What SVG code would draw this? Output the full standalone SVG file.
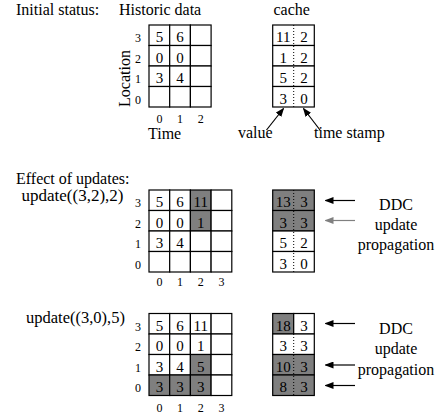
<svg xmlns="http://www.w3.org/2000/svg" width="439" height="416" viewBox="0 0 439 416">
<defs>
<marker id="ah" markerUnits="userSpaceOnUse" markerWidth="9" markerHeight="7" refX="8" refY="3.5" orient="auto">
<path d="M0,0 L9,3.5 L0,7 Z" fill="context-stroke"/>
</marker>
<style>
text{font-family:"Liberation Serif","Times New Roman",serif;fill:#000}
.lbl{font-size:16px}
.v{font-size:15px;text-anchor:middle}
.ax{font-size:12px;text-anchor:middle}
.c{fill:#fff;stroke:#000;stroke-width:1.2}
.s{fill:#7f7f7f;stroke:#000;stroke-width:1.2}
.dot{stroke:#000;stroke-width:1;stroke-dasharray:1 2;fill:none}
.ar{stroke:#000;stroke-width:1.2;fill:none;marker-end:url(#ah)}
</style>
</defs>
<rect width="439" height="416" fill="#fff"/>

<g id="labels" font-family="Liberation Serif, Times New Roman, serif">
<text class="lbl" x="16" y="15">Initial status:</text>
<text class="lbl" x="119" y="15">Historic data</text>
<text class="lbl" x="291.7" y="15" text-anchor="middle">cache</text>
<text class="lbl" x="148" y="139">Time</text>
<text class="lbl" transform="translate(129.5,78.5) rotate(-90)" text-anchor="middle">Location</text>
<text class="lbl" x="238" y="138">value</text>
<text class="lbl" x="314" y="138">time stamp</text>
<text class="lbl" x="16" y="184">Effect of updates:</text>
<text class="lbl" x="21.5" y="200.5" style="font-size:17px">update((3,2),2)</text>
<text class="lbl" x="26" y="323.3" style="font-size:16.5px">update((3,0),5)</text>
<g text-anchor="middle" class="lbl">
<text x="396" y="210">DDC</text>
<text x="396" y="230">update</text>
<text x="396" y="250">propagation</text>
<text x="396" y="333.5">DDC</text>
<text x="396" y="354">update</text>
<text x="396" y="374.5">propagation</text>
</g>
</g>

<g id="grid1">
<rect class="c" x="149" y="25" width="20.7" height="20.5"/><rect class="c" x="169.7" y="25" width="20.7" height="20.5"/><rect class="c" x="190.4" y="25" width="20.7" height="20.5"/>
<rect class="c" x="149" y="45.5" width="20.7" height="20.5"/><rect class="c" x="169.7" y="45.5" width="20.7" height="20.5"/><rect class="c" x="190.4" y="45.5" width="20.7" height="20.5"/>
<rect class="c" x="149" y="66" width="20.7" height="20.5"/><rect class="c" x="169.7" y="66" width="20.7" height="20.5"/><rect class="c" x="190.4" y="66" width="20.7" height="20.5"/>
<rect class="c" x="149" y="86.5" width="20.7" height="20.5"/><rect class="c" x="169.7" y="86.5" width="20.7" height="20.5"/><rect class="c" x="190.4" y="86.5" width="20.7" height="20.5"/>
<text class="v" x="159.4" y="42">5</text><text class="v" x="180" y="42">6</text>
<text class="v" x="159.4" y="62.5">0</text><text class="v" x="180" y="62.5">0</text>
<text class="v" x="159.4" y="83">3</text><text class="v" x="180" y="83">4</text>
<text class="ax" x="138" y="42">3</text><text class="ax" x="138" y="62.5">2</text><text class="ax" x="138" y="83">1</text><text class="ax" x="138" y="103.5">0</text>
<text class="ax" x="159.4" y="122.5">0</text><text class="ax" x="180" y="122.5">1</text><text class="ax" x="200.7" y="122.5">2</text>
</g>

<g id="cache1">
<rect class="c" x="272.7" y="25" width="41.6" height="20.5"/>
<rect class="c" x="272.7" y="45.5" width="41.6" height="20.5"/>
<rect class="c" x="272.7" y="66" width="41.6" height="20.5"/>
<rect class="c" x="272.7" y="86.5" width="41.6" height="20.5"/>
<line class="dot" x1="293.7" y1="25" x2="293.7" y2="107"/>
<text class="v" x="283.2" y="42">11</text><text class="v" x="304" y="42">2</text>
<text class="v" x="283.2" y="62.5">1</text><text class="v" x="304" y="62.5">2</text>
<text class="v" x="283.2" y="83">5</text><text class="v" x="304" y="83">2</text>
<text class="v" x="283.2" y="103.5">3</text><text class="v" x="304" y="103.5">0</text>
</g>

<g id="grid2">
<rect class="c" x="149" y="190" width="20.7" height="20.5"/><rect class="c" x="169.7" y="190" width="20.7" height="20.5"/><rect class="s" x="190.4" y="190" width="20.7" height="20.5"/><rect class="c" x="211.1" y="190" width="20.7" height="20.5"/>
<rect class="c" x="149" y="210.5" width="20.7" height="20.5"/><rect class="c" x="169.7" y="210.5" width="20.7" height="20.5"/><rect class="s" x="190.4" y="210.5" width="20.7" height="20.5"/><rect class="c" x="211.1" y="210.5" width="20.7" height="20.5"/>
<rect class="c" x="149" y="231" width="20.7" height="20.5"/><rect class="c" x="169.7" y="231" width="20.7" height="20.5"/><rect class="c" x="190.4" y="231" width="20.7" height="20.5"/><rect class="c" x="211.1" y="231" width="20.7" height="20.5"/>
<rect class="c" x="149" y="251.5" width="20.7" height="20.5"/><rect class="c" x="169.7" y="251.5" width="20.7" height="20.5"/><rect class="c" x="190.4" y="251.5" width="20.7" height="20.5"/><rect class="c" x="211.1" y="251.5" width="20.7" height="20.5"/>
<text class="v" x="159.4" y="207">5</text><text class="v" x="180" y="207">6</text><text class="v" x="200.7" y="207">11</text>
<text class="v" x="159.4" y="227.5">0</text><text class="v" x="180" y="227.5">0</text><text class="v" x="200.7" y="227.5">1</text>
<text class="v" x="159.4" y="248">3</text><text class="v" x="180" y="248">4</text>
<text class="ax" x="138" y="207">3</text><text class="ax" x="138" y="227.5">2</text><text class="ax" x="138" y="248">1</text><text class="ax" x="138" y="268.5">0</text>
<text class="ax" x="159.4" y="285.5">0</text><text class="ax" x="180" y="285.5">1</text><text class="ax" x="200.7" y="285.5">2</text><text class="ax" x="221.4" y="285.5">3</text>
</g>

<g id="cache2">
<rect class="s" x="272.7" y="190" width="41.6" height="20.5"/>
<rect class="s" x="272.7" y="210.5" width="41.6" height="20.5"/>
<rect class="c" x="272.7" y="231" width="41.6" height="20.5"/>
<rect class="c" x="272.7" y="251.5" width="41.6" height="20.5"/>
<line class="dot" x1="293.7" y1="190" x2="293.7" y2="272"/>
<text class="v" x="283.2" y="207">13</text><text class="v" x="304" y="207">3</text>
<text class="v" x="283.2" y="227.5">3</text><text class="v" x="304" y="227.5">3</text>
<text class="v" x="283.2" y="248">5</text><text class="v" x="304" y="248">2</text>
<text class="v" x="283.2" y="268.5">3</text><text class="v" x="304" y="268.5">0</text>
</g>

<g id="grid3">
<rect class="c" x="149" y="313.5" width="20.7" height="20.5"/><rect class="c" x="169.7" y="313.5" width="20.7" height="20.5"/><rect class="c" x="190.4" y="313.5" width="20.7" height="20.5"/><rect class="c" x="211.1" y="313.5" width="20.7" height="20.5"/>
<rect class="c" x="149" y="334" width="20.7" height="20.5"/><rect class="c" x="169.7" y="334" width="20.7" height="20.5"/><rect class="c" x="190.4" y="334" width="20.7" height="20.5"/><rect class="c" x="211.1" y="334" width="20.7" height="20.5"/>
<rect class="c" x="149" y="354.5" width="20.7" height="20.5"/><rect class="c" x="169.7" y="354.5" width="20.7" height="20.5"/><rect class="s" x="190.4" y="354.5" width="20.7" height="20.5"/><rect class="c" x="211.1" y="354.5" width="20.7" height="20.5"/>
<rect class="s" x="149" y="375" width="20.7" height="20.5"/><rect class="s" x="169.7" y="375" width="20.7" height="20.5"/><rect class="s" x="190.4" y="375" width="20.7" height="20.5"/><rect class="c" x="211.1" y="375" width="20.7" height="20.5"/>
<text class="v" x="159.4" y="330.5">5</text><text class="v" x="180" y="330.5">6</text><text class="v" x="200.7" y="330.5">11</text>
<text class="v" x="159.4" y="351">0</text><text class="v" x="180" y="351">0</text><text class="v" x="200.7" y="351">1</text>
<text class="v" x="159.4" y="371.5">3</text><text class="v" x="180" y="371.5">4</text><text class="v" x="200.7" y="371.5">5</text>
<text class="v" x="159.4" y="392">3</text><text class="v" x="180" y="392">3</text><text class="v" x="200.7" y="392">3</text>
<text class="ax" x="138" y="330.5">3</text><text class="ax" x="138" y="351">2</text><text class="ax" x="138" y="371.5">1</text><text class="ax" x="138" y="392">0</text>
<text class="ax" x="159.4" y="411.5">0</text><text class="ax" x="180" y="411.5">1</text><text class="ax" x="200.7" y="411.5">2</text><text class="ax" x="221.4" y="411.5">3</text>
</g>

<g id="cache3">
<rect class="s" x="272.7" y="313.5" width="21" height="20.5"/><rect class="c" x="293.7" y="313.5" width="20.6" height="20.5"/>
<rect class="c" x="272.7" y="334" width="41.6" height="20.5"/>
<rect class="s" x="272.7" y="354.5" width="41.6" height="20.5"/>
<rect class="s" x="272.7" y="375" width="41.6" height="20.5"/>
<line class="dot" x1="293.7" y1="334" x2="293.7" y2="395.5"/>
<text class="v" x="283.2" y="330.5">18</text><text class="v" x="304" y="330.5">3</text>
<text class="v" x="283.2" y="351">3</text><text class="v" x="304" y="351">3</text>
<text class="v" x="283.2" y="371.5">10</text><text class="v" x="304" y="371.5">3</text>
<text class="v" x="283.2" y="392">8</text><text class="v" x="304" y="392">3</text>
</g>

<g id="connectors">
<line class="ar" x1="266.5" y1="130" x2="283.5" y2="108.5"/>
<line class="ar" x1="320" y1="130" x2="303.5" y2="108.5"/>
<line class="ar" x1="355" y1="200.5" x2="325.5" y2="200.5"/>
<line class="ar" x1="355" y1="220.5" x2="325.5" y2="220.5" style="stroke:#808080"/>
<line class="ar" x1="355" y1="323.5" x2="325.5" y2="323.5"/>
<line class="ar" x1="355" y1="365" x2="325.5" y2="365"/>
<line class="ar" x1="355" y1="385.5" x2="325.5" y2="385.5"/>
</g>
</svg>
